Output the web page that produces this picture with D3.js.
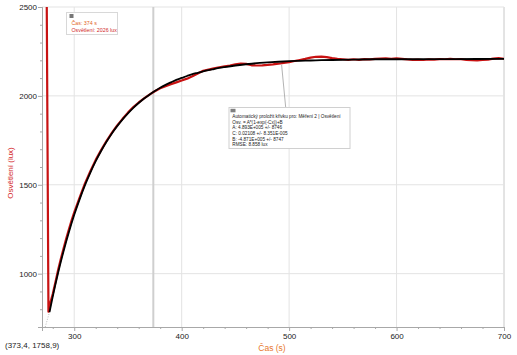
<!DOCTYPE html>
<html><head><meta charset="utf-8">
<script src="https://cdn.jsdelivr.net/npm/d3@7"></script>
<style>
html,body{margin:0;padding:0;background:#fff;}
svg{display:block;font-family:"Liberation Sans",Arial,sans-serif;}
</style></head>
<body><svg id="c" width="517" height="355"></svg>
<script>
// ---- data ----
const redTime = [274.3,276,277,278,280,282.5,285,287.5,290,292.5,295,297.5,300,
 305,310,315,320,325,330,335,340,345,350,355,360,365,370,375,380,385,390,395,400,
 405,410,415,420,425,430,435,440,445,450,455,460,465,470,475,480,485,490,495,500,
 505,510,515,520,525,530,535,540,545,550,555,560,565,570,575,580,585,590,595,600,
 605,610,615,620,625,630,635,640,645,650,655,660,665,670,675,680,685,690,695,700];
const redLux = [2650,786,800,842,885,952,1020,1082,1140,1196,1248,1298,1345,
 1428,1508,1576,1640,1695,1746,1792,1834,1871,1906,1937,1963,1986,2007,2026,2043,2055,2066,2076,2087,
 2097,2110,2126,2141,2148,2155,2161,2166,2170,2178,2181,2180,2172,2171,2172,2174,2177,2181,2186,2190,
 2196,2202,2208,2215,2220,2221,2218,2212,2208,2206,2203,2206,2203,2207,2205,2208,2210,2211,2209,2211,
 2208,2205,2203,2204,2202,2205,2204,2207,2206,2208,2206,2207,2203,2201,2200,2202,2204,2210,2212,2209];
const fitTime = [277,280,285,290,295,300,305,310,315,320,325,330,335,340,345,350,355,360,365,370,
 375,380,385,390,395,400,405,410,415,420,425,430,435,440,450,460,470,480,490,500,510,520,530,540,560,580,600,650,700];
const fitLux = [784,871,1005,1125,1233,1331,1418,1498,1569,1633,1690,1742,1789,1830,1868,1902,1933,1960,1985,2007,
 2027,2046,2062,2076,2090,2101,2112,2122,2130,2138,2145,2151,2157,2162,2171,2178,2184,2188,2192,2195,2197,2199,2201,2202,2204,2206,2206,2207,2208];
const fitExtTime = [273,277];
const fitExtLux = [700,784];
const xMajor = [300,400,500,600,700];
const xMinor = [280,320,340,360,380,420,440,460,480,520,540,560,580,620,640,660,680];
const yMajor = [1000,1500,2000,2500];
const yMinor = [700,800,900,1100,1200,1300,1400,1600,1700,1800,1900,2100,2200,2300,2400];
const cursorTime = 373.6;
const cursorLines = ["Čas: 374 s","Osvětlení: 2026 lux"];
const fitLines = ["Automatický proložit křivku pro: Měření 2 | Osvětlení",
 "Osv. = A*(1-exp(-Cx))+B","A: 4.893E+005 +/- 8746","C: 0.02108 +/- 8.351E-005",
 "B: -4.871E+005 +/- 8747","RMSE: 8.858 lux"];
const fitAnchor = [493,2175];
const xTitle = "Čas (s)", yTitle = "Osvětlení (lux)", coordText = "(373,4, 1758,9)";

// ---- layout ----
const L=42,R=504,T=7,B=327;
const svg=d3.select("#c");
const x=d3.scaleLinear().domain([270,700]).range([L,R]);
const y=d3.scaleLinear().domain([700,2500]).range([B,T]);

svg.append("defs").append("clipPath").attr("id","clip")
 .append("rect").attr("x",L).attr("y",T).attr("width",R-L).attr("height",B-T);

// grid
svg.append("g").selectAll("line").data(xMajor).join("line")
 .attr("x1",d=>x(d)).attr("x2",d=>x(d)).attr("y1",T).attr("y2",B)
 .attr("stroke",d=>d===700?"#c8c8c8":"#e3e3e3").attr("stroke-width",1);
svg.append("g").selectAll("line").data(yMajor).join("line")
 .attr("x1",L).attr("x2",R).attr("y1",d=>y(d)).attr("y2",d=>y(d))
 .attr("stroke","#e3e3e3").attr("stroke-width",1);

// cursor line
svg.append("line").attr("x1",x(cursorTime)).attr("x2",x(cursorTime)).attr("y1",T).attr("y2",B)
 .attr("stroke","#cfcfcf").attr("stroke-width",2);

// axes
function styleAxis(g){g.select(".domain").attr("stroke","#a8a8a8");g.selectAll(".tick line").attr("stroke","#a8a8a8");
 g.selectAll("text").attr("fill","#222").style("font-size","8px").style("font-family","'Liberation Sans',Arial,sans-serif");}
svg.append("g").attr("transform",`translate(0,${B})`)
 .call(d3.axisBottom(x).tickValues(xMinor).tickSize(2).tickFormat("")).call(styleAxis);
svg.append("g").attr("transform",`translate(0,${B})`)
 .call(d3.axisBottom(x).tickValues(xMajor).tickSize(4).tickPadding(2).tickFormat(d3.format("d"))).call(styleAxis);
svg.append("g").attr("transform",`translate(${L},0)`)
 .call(d3.axisLeft(y).tickValues(yMinor).tickSize(2).tickFormat("")).call(styleAxis);
svg.append("g").attr("transform",`translate(${L},0)`)
 .call(d3.axisLeft(y).tickValues(yMajor).tickSize(4).tickPadding(1).tickFormat(d3.format("d"))).call(styleAxis);

// series
const plot=svg.append("g").attr("clip-path","url(#clip)");
const redData=redTime.map((t,i)=>[t,redLux[i]]);
const fitData=fitTime.map((t,i)=>[t,fitLux[i]]);
const extData=fitExtTime.map((t,i)=>[t,fitExtLux[i]]);
plot.append("path").datum(extData).attr("fill","none").attr("stroke","#bbb").attr("stroke-width",1)
 .attr("stroke-dasharray","1,1.5").attr("d",d3.line().x(d=>x(d[0])).y(d=>y(d[1])));
plot.append("path").datum(redData).attr("fill","none").attr("stroke","#c81212").attr("stroke-width",2.2)
 .attr("stroke-linejoin","round").attr("d",d3.line().x(d=>x(d[0])).y(d=>y(d[1])));
plot.append("path").datum(fitData).attr("fill","none").attr("stroke","#000").attr("stroke-width",1.8)
 .attr("d",d3.line().curve(d3.curveMonotoneX).x(d=>x(d[0])).y(d=>y(d[1])));

// cursor box
const cb=svg.append("g");
cb.append("rect").attr("x",66.5).attr("y",12.5).attr("width",51).attr("height",22)
 .attr("fill","#fff").attr("stroke","#d8d8d8").attr("stroke-width",1);
cb.append("rect").attr("x",69.5).attr("y",14).attr("width",4).attr("height",4).attr("fill","#777");
cb.selectAll("text").data(cursorLines).join("text")
 .attr("x",71.5).attr("y",(d,i)=>24.5+i*7.5).attr("fill",(d,i)=>i===0?"#e2661f":"#d11f1f")
 .style("font-size","5.3px").text(d=>d);

// fit annotation
const bx=229,by=107.5,bw=121,bh=41;
svg.append("line").attr("x1",x(fitAnchor[0])).attr("y1",y(fitAnchor[1])).attr("x2",285.7).attr("y2",by)
 .attr("stroke","#a0a0a0").attr("stroke-width",0.8);
const fb=svg.append("g");
fb.append("rect").attr("x",bx).attr("y",by).attr("width",bw).attr("height",bh)
 .attr("fill","#fff").attr("stroke","#d0d0d0").attr("stroke-width",1);
fb.append("rect").attr("x",bx+1.5).attr("y",by+1.3).attr("width",5).attr("height",3.5).attr("fill","#808080");
fb.selectAll("text").data(fitLines).join("text")
 .attr("x",bx+3.3).attr("y",(d,i)=>by+10.8+i*5.55).attr("fill","#222")
 .style("font-size","4.7px").text(d=>d);

// titles
svg.append("text").attr("transform","translate(12.5,173) rotate(-90)").attr("text-anchor","middle")
 .attr("fill","#d42a2a").style("font-size","8px").text(yTitle);
svg.append("text").attr("x",272).attr("y",351).attr("text-anchor","middle")
 .attr("fill","#e8772e").style("font-size","8.5px").text(xTitle);
svg.append("text").attr("x",5).attr("y",348).attr("fill","#222").style("font-size","8px").text(coordText);
</script></body></html>
